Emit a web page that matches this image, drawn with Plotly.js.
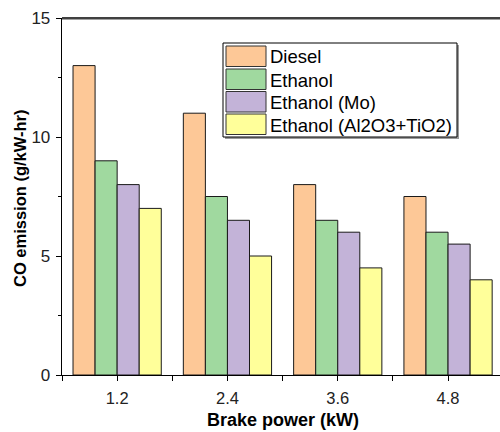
<!DOCTYPE html>
<html>
<head>
<meta charset="utf-8">
<script src="https://cdn.plot.ly/plotly-3.0.1.min.js"></script>
<style>html,body{margin:0;padding:0;background:#fff;}#chart{width:500px;height:432px;}</style>
</head>
<body>
<div id="chart"></div>
<script>
// Data
var brakePower = [1.2, 2.4, 3.6, 4.8];
var seriesNames = ["Diesel", "Ethanol", "Ethanol (Mo)", "Ethanol (Al2O3+TiO2)"];
var diesel = [13, 11, 8, 7.5];
var ethanol = [9, 7.5, 6.5, 6];
var ethanolMo = [8, 6.5, 6, 5.5];
var ethanolAlTi = [7, 5, 4.5, 4];
var seriesValues = [diesel, ethanol, ethanolMo, ethanolAlTi];
var colors = ["#FDC897", "#A0D99F", "#C3B3D8", "#FFFF9A"];
var xTitle = "Brake power (kW)";
var yTitle = "CO emission (g/kW-hr)";

var L = 62, T = 18, B = 57, W = 500, H = 432;
var pw = W - L, ph = H - T - B;
function px(x){ return (x - L) / pw; }
function py(y){ return (H - B - y) / ph; }

var traces = seriesValues.map(function(v, i){
  return {
    type: "bar", x: brakePower, y: v, name: seriesNames[i],
    marker: {color: colors[i], line: {color: "#1a1a1a", width: 1}},
    showlegend: false, hoverinfo: "x+y"
  };
});

var shapes = [
  // top frame line with faint shadow
  {type: "line", xref: "paper", yref: "paper", x0: 0, x1: 1, y0: py(19.5), y1: py(19.5), line: {color: "#a0a0a0", width: 1}},
  {type: "line", xref: "paper", yref: "paper", x0: 0, x1: 1, y0: 1, y1: 1, line: {color: "#000", width: 1.3}},
  // legend shadow and box
  {type: "rect", xref: "paper", yref: "paper", x0: px(225), x1: px(459), y0: py(45), y1: py(139), line: {width: 0}, fillcolor: "#9a9a9a"},
  {type: "rect", xref: "paper", yref: "paper", x0: px(223), x1: px(457), y0: py(43), y1: py(137), line: {color: "#000", width: 1}, fillcolor: "#fff"}
];
var annotations = [];
var rowTop = [46, 69, 91.5, 114];
seriesNames.forEach(function(n, i){
  shapes.push({type: "rect", xref: "paper", yref: "paper", x0: px(226), x1: px(266), y0: py(rowTop[i]), y1: py(rowTop[i] + 20.5),
    line: {color: "#333", width: 1}, fillcolor: colors[i]});
  annotations.push({xref: "paper", yref: "paper", x: px(268), y: py(rowTop[i] + 11), xanchor: "left", yanchor: "middle",
    text: n, showarrow: false, font: {family: "Liberation Sans, Arial, sans-serif", size: 18.5, color: "#000"}});
});
// axis titles
annotations.push({xref: "paper", yref: "paper", x: px(283), y: py(420), xanchor: "center", yanchor: "middle",
  text: "<b>" + xTitle + "</b>", showarrow: false, font: {family: "Liberation Sans, Arial, sans-serif", size: 18, color: "#000"}});
annotations.push({xref: "paper", yref: "paper", x: px(20), y: py(198), xanchor: "center", yanchor: "middle", textangle: -90,
  text: "<b>" + yTitle + "</b>", showarrow: false, font: {family: "Liberation Sans, Arial, sans-serif", size: 16.5, color: "#000"}});

var layout = {
  width: W, height: H,
  margin: {l: L, r: 0, t: T, b: B, pad: 0},
  paper_bgcolor: "#fff", plot_bgcolor: "#fff",
  bargap: 0.2, bargroupgap: 0, barmode: "group",
  font: {family: "Liberation Sans, Arial, sans-serif", color: "#222"},
  xaxis: {
    range: [0.6, 0.6 + pw / 110.3 * 1.2], tickvals: brakePower, ticktext: brakePower.map(function(v){return v.toFixed(1);}),
    ticks: "outside", ticklen: 5, tickwidth: 1, tickcolor: "#000", ticklabelstandoff: 3,
    minor: {tickvals: [0.6, 1.8, 3.0, 4.2], ticks: "outside", ticklen: 5, tickwidth: 1, tickcolor: "#000"},
    showline: true, linecolor: "#000", linewidth: 1.3, showgrid: false, zeroline: false,
    tickfont: {size: 16.5, color: "#222"},
    automargin: false, fixedrange: true
  },
  yaxis: {
    range: [0, 15], tickvals: [0, 5, 10, 15],
    ticks: "outside", ticklen: 5, tickwidth: 1, tickcolor: "#000", ticklabelstandoff: 2,
    minor: {tickvals: [2.5, 7.5, 12.5], ticks: "outside", ticklen: 3, tickwidth: 1, tickcolor: "#000"},
    showline: true, linecolor: "#000", linewidth: 1.3, showgrid: false, zeroline: false,
    tickfont: {size: 17, color: "#222"},
    automargin: false, fixedrange: true
  },
  shapes: shapes, annotations: annotations,
  showlegend: false
};

Plotly.newPlot("chart", traces, layout, {displayModeBar: false, staticPlot: true});
</script>
</body>
</html>
